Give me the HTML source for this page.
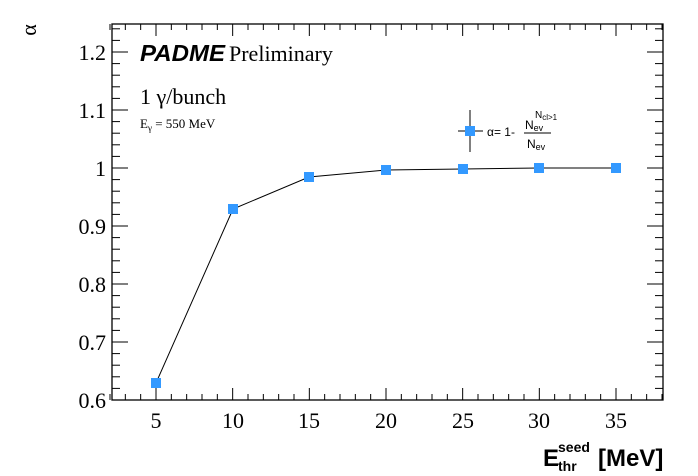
<!DOCTYPE html>
<html><head><meta charset="utf-8"><style>body{margin:0;background:#fff}svg{display:block}</style></head><body>
<svg width="698" height="476" xmlns="http://www.w3.org/2000/svg" font-family="Liberation Serif, serif">
<rect width="698" height="476" fill="#fff"/>
<rect x="112" y="24" width="551" height="376" fill="none" stroke="#000" stroke-width="1.3"/>
<g font-size="22" text-anchor="end" fill="#000">
<text x="106" y="408">0.6</text><text x="106" y="350">0.7</text><text x="106" y="292">0.8</text>
<text x="106" y="234">0.9</text><text x="106" y="176">1</text><text x="106" y="118">1.1</text><text x="106" y="60">1.2</text>
</g>
<g font-size="22" text-anchor="middle" fill="#000">
<text x="156" y="428">5</text><text x="233" y="428">10</text><text x="309" y="428">15</text><text x="386" y="428">20</text>
<text x="463" y="428">25</text><text x="539" y="428">30</text><text x="616" y="428">35</text>
</g>
<text transform="translate(36,30) rotate(-90)" font-size="22" text-anchor="middle">α</text>
<g font-family="Liberation Sans, sans-serif" font-weight="bold" fill="#000">
<text x="543" y="466" font-size="24">E</text>
<text x="558" y="452" font-size="14">seed</text>
<text x="558" y="471" font-size="14">thr</text>
<text x="598" y="466" font-size="24">[MeV]</text>
</g>
<text x="140" y="61" font-family="Liberation Sans, sans-serif" font-weight="bold" font-style="italic" font-size="23" textLength="85" lengthAdjust="spacingAndGlyphs">PADME</text>
<text x="229" y="61" font-size="22">Preliminary</text>
<text x="140" y="104" font-size="22">1 γ/bunch</text>
<text x="140" y="128" font-size="13">E<tspan font-size="9" dy="3">γ</tspan><tspan dy="-3"> = 550 MeV</tspan></text>
<g stroke="#000" stroke-width="1">
<line x1="470" y1="110" x2="470" y2="152"/><line x1="458" y1="131" x2="483" y2="131"/>
</g>
<rect x="465" y="126" width="10" height="10" fill="#3399ff"/>
<g font-family="Liberation Sans, sans-serif" font-size="12" fill="#000">
<text x="487" y="136">α= 1-</text>
<text x="525" y="129">N<tspan font-size="9" dy="2">ev</tspan></text>
<text x="535" y="118" font-size="10">N<tspan font-size="8" dy="2">cl&gt;1</tspan></text>
<line x1="524" y1="133" x2="551" y2="133" stroke="#000" stroke-width="1"/>
<text x="527" y="148">N<tspan font-size="9" dy="2">ev</tspan></text>
</g>
<polyline fill="none" stroke="#000" stroke-width="1" points="156,383 233,209 309,177 386,170 463,169 539,168 616,168"/>
<g fill="#3399ff">
<rect x="151" y="378" width="10" height="10"/><rect x="228" y="204" width="10" height="10"/>
<rect x="304" y="172" width="10" height="10"/><rect x="381" y="165" width="10" height="10"/>
<rect x="458" y="164" width="10" height="10"/><rect x="534" y="163" width="10" height="10"/>
<rect x="611" y="163" width="10" height="10"/>
</g>
<g stroke="#000" stroke-width="1" id="tk">
</g>
</svg>
<script>
var g=document.getElementById('tk'),s='';
function L(a,b,c,d){s+='<line x1="'+a+'" y1="'+b+'" x2="'+c+'" y2="'+d+'"/>';}
for(var v=2;v<=38;v++){var x=110+(v-2)*15.333;var len=(v%5==0)?12:6;L(x,400,x,400-len);L(x,24,x,24+len);}
for(var i=0;i<=32;i++){var y=400-i*11.6;if(y<24)break;var len=(i%5==0)?16:8;L(112,y,112+len,y);L(663,y,663-len,y);}
g.innerHTML=s;
</script>
</body></html>
